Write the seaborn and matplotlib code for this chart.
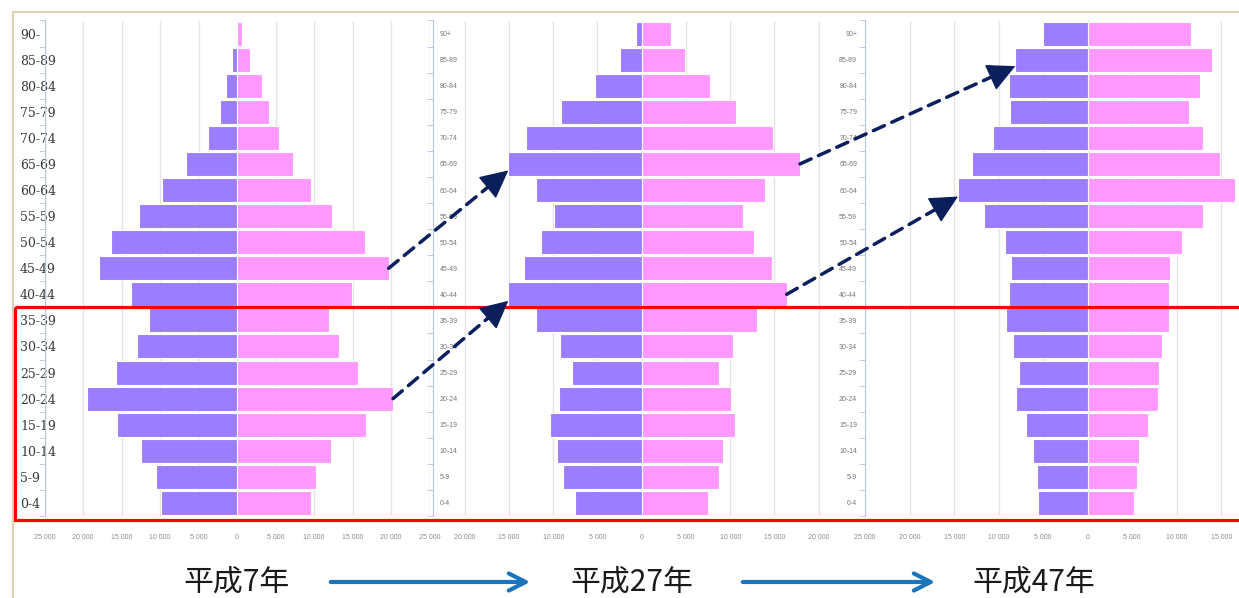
import numpy as np
import pandas as pd
import matplotlib.pyplot as plt
import seaborn as sns
from matplotlib.patches import Rectangle, FancyArrowPatch
from matplotlib.lines import Line2D
from matplotlib.transforms import blended_transform_factory
from matplotlib.ticker import FuncFormatter

# ---- data (people) ----
age_groups = ["90+", "85-89", "80-84", "75-79", "70-74", "65-69", "60-64", "55-59",
              "50-54", "45-49", "40-44", "35-39", "30-34", "25-29", "20-24",
              "15-19", "10-14", "5-9", "0-4"]
labels_h7 = ["90-"] + age_groups[1:]
years = ["平成7年", "平成27年", "平成47年"]

male_h7 = [150, 650, 1430, 2250, 3800, 6650, 9740, 12770, 16360, 17920, 13800,
           11390, 12990, 15760, 19480, 15630, 12470, 10520, 9870]
female_h7 = [650, 1650, 3200, 4100, 5450, 7270, 9650, 12380, 16660, 19700, 14940,
             11900, 13250, 15760, 20260, 16710, 12160, 10220, 9650]

male_h27 = [640, 2450, 5310, 9110, 13110, 15070, 11940, 9870, 11370, 13330, 15070,
            11940, 9230, 7830, 9380, 10360, 9600, 8850, 7500]
female_h27 = [3280, 4900, 7720, 10660, 14800, 17890, 13970, 11490, 12730, 14690, 16380,
              12990, 10360, 8780, 10060, 10550, 9230, 8780, 7530]

male_h47 = [4980, 8130, 8840, 8760, 10670, 13000, 14570, 11650, 9330, 8610, 8840,
            9180, 8430, 7750, 8090, 6930, 6100, 5730, 5540]
female_h47 = [11610, 13930, 12620, 11420, 13000, 14870, 16550, 12920, 10640, 9250, 9100,
              9180, 8310, 7980, 7940, 6820, 5810, 5510, 5210]

MALE = '#9b7dff'
FEMALE = '#ff99ff'
NAVY = '#0b1f5c'
SPINE = '#b8c6dc'

W, H = 1239, 598
TOP, BOTTOM = 20.5, 516

sns.set_style('white')
plt.rcParams['font.family'] = ['Noto Sans CJK JP', 'DejaVu Sans']

fig = plt.figure(figsize=(W / 100, H / 100), dpi=100)


def thousands(v, _):
    return f"{abs(int(round(v))):,}".replace(',', ' ')


def draw_pyramid(zero_px, scale, xlim, xticks, male, female):
    left = zero_px + xlim[0] / 1000 * scale
    width = (xlim[1] - xlim[0]) / 1000 * scale
    ax = fig.add_axes([left / W, 1 - BOTTOM / H, width / W, (BOTTOM - TOP) / H])
    df = pd.DataFrame({
        'age': age_groups * 2,
        'pop': [-m for m in male] + list(female),
        'sex': ['男'] * len(male) + ['女'] * len(female),
    })
    sns.barplot(data=df, x='pop', y='age', hue='sex', order=age_groups,
                hue_order=['男', '女'], palette={'男': MALE, '女': FEMALE},
                saturation=1, dodge=False, orient='h', width=0.92, errorbar=None,
                edgecolor='white', linewidth=0.8, legend=False, ax=ax)
    ax.set_xlim(xlim)
    ax.set_ylim(len(age_groups) - 0.5, -0.5)
    ax.set_xlabel('')
    ax.set_ylabel('')
    ax.set_xticks(xticks)
    ax.xaxis.set_major_formatter(FuncFormatter(thousands))
    ax.tick_params(axis='x', length=0, pad=13, labelsize=5, labelcolor='#8c8c8c')
    for t in ax.get_xticklabels():
        t.set_fontfamily('Liberation Sans')
    ax.xaxis.grid(True, color='#e4e4e4', lw=1)
    ax.set_axisbelow(True)
    for s in ['top', 'right', 'bottom']:
        ax.spines[s].set_visible(False)
    ax.spines['left'].set_color(SPINE)
    ax.set_yticks(range(len(age_groups)))
    ax.set_yticks(np.arange(-0.5, len(age_groups)), minor=True)
    ax.tick_params(axis='y', which='minor', length=4, color=SPINE, left=True)
    ax.tick_params(axis='y', which='major', length=0)
    ax.patch.set_alpha(0)
    return ax


ax1 = draw_pyramid(237, 7.7, (-25000, 25000), np.arange(-25000, 25001, 5000),
                   male_h7, female_h7)
ax1.set_yticklabels(labels_h7, ha='left', fontsize=9, color='#3a3a3a',
                    fontfamily='DejaVu Serif')
ax1.tick_params(axis='y', which='major', pad=17.6)

ax2 = draw_pyramid(641.7, 8.85, (-23600, 23600), np.arange(-20000, 20001, 5000),
                   male_h27, female_h27)
ax2.set_yticklabels(age_groups, ha='left', fontsize=5, color='#777777',
                    fontfamily='Liberation Sans')
ax2.tick_params(axis='y', which='major', pad=-5)

ax3 = draw_pyramid(1087.7, 8.9, (-25000, 17000), np.arange(-25000, 15001, 5000),
                   male_h47, female_h47)
ax3.set_yticklabels(age_groups, ha='right', fontsize=5, color='#777777',
                    fontfamily='Liberation Sans')
ax3.tick_params(axis='y', which='major', pad=5.8)

# outer frame (top and left edges)
fig.add_artist(Line2D([13 / W, 13 / W], [0, 1 - 12 / H], color='#dcd3b5', lw=1.5))
fig.add_artist(Line2D([13 / W, 1], [1 - 12 / H, 1 - 12 / H], color='#dcd3b5', lw=1.5))

# red box round the ages 0-39
trans = blended_transform_factory(fig.transFigure, ax1.transData)
fig.add_artist(Rectangle((15 / W, 10.5), 1.02, 8.15, transform=trans, fill=False,
                         edgecolor='#ff0000', lw=2.3, clip_on=False, zorder=5))


# dashed arrows that follow one cohort 20 years on
def cohort_arrow(ax_a, female_a, ax_b, male_b, row):
    p0 = ax_a.transData.transform((female_a[row], row))
    p1 = ax_b.transData.transform((-male_b[row - 4], row - 4 + 0.25))
    d = (p1 - p0) / np.hypot(*(p1 - p0))
    q = p1 - d * 20
    inv = fig.transFigure.inverted()
    p0f, qf, p1f = inv.transform(p0), inv.transform(q), inv.transform(p1)
    fig.add_artist(FancyArrowPatch(p0f, qf, transform=fig.transFigure, arrowstyle='-',
                                   shrinkA=0, shrinkB=0, linestyle=(0, (3.5, 2.3)),
                                   lw=2.5, color=NAVY, zorder=6))
    fig.add_artist(FancyArrowPatch(qf, p1f, transform=fig.transFigure,
                                   arrowstyle='-|>,head_length=0.9,head_width=0.45',
                                   mutation_scale=20, shrinkA=0, shrinkB=0,
                                   lw=1, color=NAVY, zorder=6))


cohort_arrow(ax1, female_h7, ax2, male_h27, 9)
cohort_arrow(ax1, female_h7, ax2, male_h27, 14)
cohort_arrow(ax2, female_h27, ax3, male_h47, 5)
cohort_arrow(ax2, female_h27, ax3, male_h47, 10)

# year labels and blue arrows along the bottom
label_y = 1 - 582 / H
for x_px, year in zip([237, 632, 1034], years):
    fig.text(x_px / W, label_y, year, ha='center', va='center', fontsize=21.5,
             color='#1a1a1a')
for x0, x1 in [(328, 533), (740, 938)]:
    fig.add_artist(FancyArrowPatch((x0 / W, label_y), (x1 / W, label_y),
                                   transform=fig.transFigure,
                                   arrowstyle='->,head_length=0.55,head_width=0.28',
                                   mutation_scale=22, lw=3, color='#1c75bc'))

fig.savefig('out.png', dpi=100)
